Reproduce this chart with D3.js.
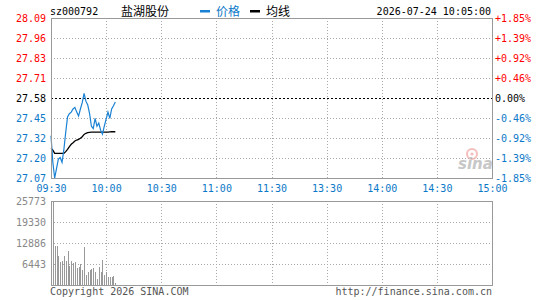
<!DOCTYPE html>
<html><head><meta charset="utf-8">
<script src="https://cdn.jsdelivr.net/npm/d3@7"></script>
<style>
html,body{margin:0;padding:0;background:#fff;}
svg{display:block;}
</style></head>
<body>
<svg id="c" width="545" height="300"></svg>
<script>
// ---- data ----
const stockCode = "sz000792";
const stockName = "盐湖股份";
const legendNames = ["价格", "均线"];
const dateTimeLabel = "2026-07-24 10:05:00";
const prevClose = 27.58;
const priceMin = 27.07, priceMax = 28.09;
const priceTickLabels = ["28.09","27.96","27.83","27.71","27.58","27.45","27.32","27.20","27.07"];
const pctTickLabels = ["+1.85%","+1.39%","+0.92%","+0.46%","0.00%","-0.46%","-0.92%","-1.39%","-1.85%"];
const timeTickLabels = ["09:30","10:00","10:30","11:00","11:30","13:30","14:00","14:30","15:00"];
const timeTickIndex = [0,30,60,90,120,150,180,210,240];
const totalMinutes = 240;
const volTickLabels = ["25773","19330","12886","6443"];
const volTickValues = [25773,19330,12886,6443];
const volMax = 25773;
const prices = [27.34,27.17,27.07,27.13,27.19,27.20,27.17,27.25,27.36,27.46,27.48,27.49,27.51,27.52,27.49,27.465,27.51,27.55,27.61,27.56,27.535,27.48,27.40,27.385,27.45,27.40,27.42,27.375,27.35,27.40,27.445,27.49,27.45,27.51,27.53,27.555];
const avgPrices = [27.259,27.248,27.227,27.227,27.227,27.227,27.227,27.227,27.238,27.253,27.27,27.285,27.295,27.306,27.312,27.316,27.323,27.333,27.348,27.355,27.359,27.361,27.362,27.362,27.362,27.362,27.362,27.362,27.362,27.362,27.363,27.363,27.364,27.365,27.365,27.365];
const volumes = [10830,25773,11840,12060,8990,6930,7450,8990,7240,10310,5920,7450,6750,6930,5220,5520,6440,4690,11540,3160,4080,4690,4910,5090,3990,1930,5520,3900,7550,3160,4080,2450,2450,2450,2640,610];
const copyrightText = "Copyright 2026 SINA.COM";
const urlText = "http://finance.sina.com.cn";

// ---- drawing ----
const svg = d3.select("#c");
const mono = "'DejaVu Sans Mono', 'Liberation Mono', monospace";
const cjk = "'Noto Sans CJK SC', sans-serif";
const L = 51, R = 492, T = 18, B = 178, VT = 201, VB = 285;
const blue = "#0b78c8", lineBlue = "#1a82d4", red = "#ff0000", grey = "#999";

const x = d3.scaleLinear().domain([0, totalMinutes]).range([L, R]);
const y = d3.scaleLinear().domain([priceMin, priceMax]).range([B, T]);
const yv = d3.scaleLinear().domain([0, volMax]).range([VB, VT]);
const step = (priceMax - priceMin) / (priceTickLabels.length - 1);
const tickPrice = i => priceMax - i * step;

// price grid
const g = svg.append("g").attr("shape-rendering", "crispEdges");
priceTickLabels.forEach((t, i) => {
  if (i === 0 || i === priceTickLabels.length - 1) return;
  const yy = Math.round(y(tickPrice(i))) + 0.5;
  const mid = i === 4;
  g.append("line").attr("x1", L).attr("x2", R).attr("y1", yy).attr("y2", yy)
    .attr("stroke", mid ? "#000" : "#aaa").attr("stroke-width", 1)
    .attr("stroke-dasharray", mid ? "2,2" : "1,2");
});
timeTickIndex.forEach((ti, i) => {
  if (i === 0 || i === timeTickIndex.length - 1) return;
  const xx = Math.round(x(ti)) + 0.5;
  g.append("line").attr("x1", xx).attr("x2", xx).attr("y1", T).attr("y2", B)
    .attr("stroke", "#aaa").attr("stroke-dasharray", "1,2");
  g.append("line").attr("x1", xx).attr("x2", xx).attr("y1", VT).attr("y2", VB)
    .attr("stroke", "#aaa").attr("stroke-dasharray", "1,2");
});
volTickValues.forEach((v, i) => {
  if (i === 0) return;
  const yy = Math.round(yv(v)) + 0.5;
  g.append("line").attr("x1", L).attr("x2", R).attr("y1", yy).attr("y2", yy)
    .attr("stroke", "#aaa").attr("stroke-dasharray", "1,2");
});

// sina watermark
const wm = svg.append("g").attr("opacity", 0.75);
wm.append("circle").attr("cx", 472).attr("cy", 154).attr("r", 5).attr("fill", "none").attr("stroke", "#f3a8a8").attr("stroke-width", 2);
wm.append("circle").attr("cx", 472).attr("cy", 154).attr("r", 1.6).attr("fill", "#f3a8a8");
wm.append("text").attr("x", 458).attr("y", 169).attr("font-family", "'DejaVu Sans', sans-serif")
  .attr("font-size", 15).attr("font-weight", "bold").attr("font-style", "italic").attr("fill", "#b5b5b5").text("sina");

// volume bars
svg.append("g").attr("shape-rendering", "crispEdges").selectAll("rect").data(volumes).join("rect")
  .attr("x", (d, i) => Math.round(x(i)))
  .attr("width", 1)
  .attr("y", d => yv(d))
  .attr("height", d => VB - yv(d))
  .attr("fill", grey);

// lines
const line = d3.line().x((d, i) => x(i)).y(d => y(d));
svg.append("path").datum(avgPrices).attr("d", line).attr("fill", "none").attr("stroke", "#000").attr("stroke-width", 1.3);
svg.append("path").datum(prices).attr("d", line).attr("fill", "none").attr("stroke", lineBlue).attr("stroke-width", 1.2);

// borders
const bd = svg.append("g").attr("shape-rendering", "crispEdges");
bd.append("rect").attr("x", L + 0.5).attr("y", T + 0.5).attr("width", R - L).attr("height", B - T)
  .attr("fill", "none").attr("stroke", grey);
bd.append("rect").attr("x", L + 0.5).attr("y", VT + 0.5).attr("width", R - L).attr("height", VB - VT)
  .attr("fill", "none").attr("stroke", grey);

// axis labels
const txt = svg.append("g").attr("font-family", mono).attr("font-size", 10);
priceTickLabels.forEach((t, i) => {
  const yy = y(tickPrice(i));
  const col = i < 4 ? red : (i === 4 ? "#000" : blue);
  txt.append("text").attr("x", 46).attr("y", yy + 3.6).attr("text-anchor", "end").attr("fill", col).text(t);
  txt.append("text").attr("x", 495).attr("y", yy + 3.6).attr("text-anchor", "start").attr("fill", col).text(pctTickLabels[i]);
});
timeTickLabels.forEach((t, i) => {
  txt.append("text").attr("x", x(timeTickIndex[i]) + 0.5).attr("y", 192).attr("text-anchor", "middle").attr("fill", blue).text(t);
});
volTickLabels.forEach((t, i) => {
  txt.append("text").attr("x", 46).attr("y", yv(volTickValues[i]) + 3.6).attr("text-anchor", "end").attr("fill", "#888").text(t);
});

// header
txt.append("text").attr("x", 50).attr("y", 15).attr("fill", "#000").text(stockCode);
svg.append("text").attr("x", 121).attr("y", 15.5).attr("font-family", cjk).attr("font-size", 12).attr("fill", "#000").text(stockName);
svg.append("rect").attr("x", 200).attr("y", 10).attr("width", 10).attr("height", 2.5).attr("fill", lineBlue);
svg.append("text").attr("x", 216).attr("y", 15.5).attr("font-family", cjk).attr("font-size", 12).attr("fill", blue).text(legendNames[0]);
svg.append("rect").attr("x", 250).attr("y", 10).attr("width", 10).attr("height", 2.5).attr("fill", "#000");
svg.append("text").attr("x", 266).attr("y", 15.5).attr("font-family", cjk).attr("font-size", 12).attr("fill", "#000").text(legendNames[1]);
txt.append("text").attr("x", 491).attr("y", 15).attr("text-anchor", "end").attr("fill", "#000").text(dateTimeLabel);

// footer
txt.append("text").attr("x", 50).attr("y", 295).attr("fill", "#555").text(copyrightText);
txt.append("text").attr("x", 492).attr("y", 295).attr("text-anchor", "end").attr("fill", "#555").text(urlText);
</script>
</body></html>
